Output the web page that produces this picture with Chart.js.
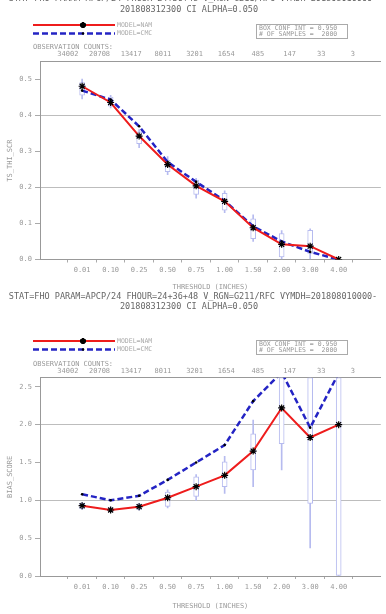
<!DOCTYPE html>
<html>
<head>
<meta charset="utf-8">
<script src="https://cdn.jsdelivr.net/npm/chart.js@4.4.0/dist/chart.umd.min.js"></script>
<style>
  body { margin: 0; background: #fff; width: 386px; height: 614px; overflow: hidden; position: relative; }
  canvas { position: absolute; left: 0; }
  #top { top: 0; }
  #bottom { top: 292px; }
</style>
</head>
<body>
<canvas id="top" width="386" height="292"></canvas>
<canvas id="bottom" width="386" height="322"></canvas>
<script>
// thresholds and observation counts (shared by both panels)
const thresholds = ['0.01', '0.10', '0.25', '0.50', '0.75', '1.00', '1.50', '2.00', '3.00', '4.00'];
const obsCounts = ['34002', '20708', '13417', '8011', '3201', '1654', '485', '147', '33', '3'];

// top panel: threat score
const tsNam = [0.480, 0.435, 0.342, 0.263, 0.204, 0.161, 0.088, 0.042, 0.037, 0.0];
const tsCmc = [0.468, 0.443, 0.369, 0.270, 0.215, 0.163, 0.092, 0.050, 0.021, 0.0];
const tsBoxLo = [0.455, 0.425, 0.321, 0.243, 0.180, 0.137, 0.058, 0.007, 0.017, null];
const tsBoxHi = [0.490, 0.450, 0.354, 0.275, 0.220, 0.183, 0.113, 0.072, 0.081, null];
const tsWhiskLo = [0.445, 0.420, 0.310, 0.235, 0.170, 0.130, 0.050, 0.0, 0.0, null];
const tsWhiskHi = [0.500, 0.455, 0.360, 0.285, 0.225, 0.190, 0.124, 0.080, 0.085, null];
const tsTicks = [0.0, 0.1, 0.2, 0.3, 0.4, 0.5];

// bottom panel: frequency bias
const biasNam = [0.929, 0.872, 0.916, 1.034, 1.18, 1.33, 1.65, 2.22, 1.83, 2.0];
const biasCmc = [1.08, 1.0, 1.06, 1.27, 1.50, 1.73, 2.31, 2.69, 1.96, 2.68];
const biasBoxLo = [0.89, 0.85, 0.88, 0.92, 1.05, 1.18, 1.40, 1.75, 0.96, 0.0];
const biasBoxHi = [0.96, 0.90, 0.95, 1.11, 1.31, 1.51, 1.88, 2.62, 2.62, 2.62];
const biasWhiskLo = [0.88, 0.84, 0.87, 0.90, 1.0, 1.09, 1.18, 1.40, 0.37, 0.0];
const biasWhiskHi = [0.97, 0.91, 0.96, 1.14, 1.34, 1.58, 2.06, 2.62, 2.62, 2.62];
const biasTicks = [0.0, 0.5, 1.0, 1.5, 2.0, 2.5];

const titleLine1 = 'STAT=FHO PARAM=APCP/24 FHOUR=24+36+48 V_RGN=G211/RFC VYMDH=201808010000-';
const titleLine2 = '201808312300 CI ALPHA=0.050';

Chart.defaults.font.family = '"DejaVu Sans Mono", monospace';
Chart.defaults.font.size = 7;
Chart.defaults.color = '#999';

const RED = '#ee1c1c';
const BLUE = '#2424c4';
const BOXC = '#b6bbef';

// titles, legend, conf box and "observation counts" caption
function decor(o) {
  return {
    id: 'decor',
    afterDraw(chart) {
      const ctx = chart.ctx;
      ctx.save();
      ctx.fillStyle = '#666';
      ctx.font = '8.5px "DejaVu Sans Mono"';
      ctx.textAlign = 'center';
      ctx.textBaseline = 'middle';
      ctx.fillText(titleLine1, 193, o.titleY);
      ctx.fillText(titleLine2, 189, o.titleY + o.titleGap);

      // legend
      const ly = o.legendY;
      ctx.lineWidth = 2;
      ctx.strokeStyle = RED;
      ctx.beginPath(); ctx.moveTo(33, ly); ctx.lineTo(115, ly); ctx.stroke();
      ctx.strokeStyle = BLUE;
      ctx.lineWidth = 2.5;
      ctx.setLineDash([6, 3]);
      ctx.beginPath(); ctx.moveTo(33, ly + 8.5); ctx.lineTo(115, ly + 8.5); ctx.stroke();
      ctx.setLineDash([]);
      ctx.strokeStyle = '#000';
      ctx.fillStyle = '#000';
      Chart.helpers.drawPoint(ctx, {pointStyle: 'star', radius: 3, borderWidth: 1.2, rotation: 0}, 83, ly);
      Chart.helpers.drawPoint(ctx, {pointStyle: 'circle', radius: 1.3, borderWidth: 0, rotation: 0}, 83, ly + 8.5);

      ctx.fillStyle = '#aaa';
      ctx.font = '6.5px "DejaVu Sans Mono"';
      ctx.textAlign = 'left';
      ctx.fillText('MODEL=NAM', 117, ly);
      ctx.fillText('MODEL=CMC', 117, ly + 8.5);

      // conf box
      ctx.strokeStyle = '#aaa';
      ctx.lineWidth = 1;
      ctx.strokeRect(256.5, ly - 0.5, 91, 14);
      ctx.fillStyle = '#999';
      ctx.fillText('BOX CONF INT = 0.950', 259, ly + 3.5);
      ctx.fillText('# OF SAMPLES =  2000', 259, ly + 9.8);

      ctx.font = '7px "DejaVu Sans Mono"';
      ctx.fillText('OBSERVATION COUNTS:', 33, o.countsY);
      ctx.restore();
    }
  };
}

function makeChart(id, p) {
  const pts = arr => arr.map((v, i) => ({x: i, y: v}));
  const rng = (lo, hi) => lo.map((v, i) => v == null ? null : {x: i, y: [v, hi[i]]}).filter(d => d);
  const idxTicks = s => { s.ticks = thresholds.map((t, i) => ({value: i})); };

  new Chart(document.getElementById(id), {
    type: 'line',
    data: {
      datasets: [
        {
          label: 'MODEL=NAM', data: pts(p.nam), borderColor: RED, borderWidth: 2,
          pointStyle: 'star', pointRadius: 3.5, pointBorderColor: '#000', pointBorderWidth: 1.2,
          tension: 0, order: 0
        },
        {
          label: 'MODEL=CMC', data: pts(p.cmc), borderColor: BLUE, borderWidth: 2.5, borderDash: [6, 3],
          pointStyle: 'circle', pointRadius: 1.3, pointBackgroundColor: '#000', pointBorderWidth: 0,
          tension: 0, order: 1
        },
        {
          type: 'bar', label: 'box', data: rng(p.boxLo, p.boxHi), backgroundColor: '#fff',
          borderColor: BOXC, borderWidth: 1, borderSkipped: false, barThickness: 5, grouped: false, order: 2
        },
        {
          type: 'bar', label: 'whisker', data: rng(p.whiskLo, p.whiskHi), backgroundColor: BOXC,
          borderWidth: 0, barThickness: 1, grouped: false, order: 3
        }
      ]
    },
    options: {
      responsive: false,
      animation: false,
      layout: {padding: {left: 0, right: 1, top: 0, bottom: 0}},
      plugins: {legend: {display: false}, tooltip: {enabled: false}},
      scales: {
        x: {
          type: 'linear', position: 'bottom', min: -0.88, max: 9.88,
          afterBuildTicks: idxTicks,
          afterFit: s => { s.height = p.xHeight; },
          ticks: {autoSkip: false, maxRotation: 0, padding: p.xPad, callback: v => thresholds[v]},
          grid: {drawOnChartArea: false, tickLength: 3, tickColor: '#aaa'},
          border: {color: '#999'},
          title: {display: true, text: 'THRESHOLD (INCHES)', color: '#999', padding: {top: 0, bottom: p.xTitlePad}}
        },
        x2: {
          type: 'linear', position: 'top', min: -0.88, max: 9.88,
          afterBuildTicks: idxTicks,
          afterFit: s => { s.height = p.topHeight; },
          ticks: {autoSkip: false, maxRotation: 0, padding: p.countPad, color: '#999', callback: v => obsCounts[v]},
          grid: {drawOnChartArea: false, drawTicks: false},
          border: {color: '#999'}
        },
        y: {
          min: 0, max: p.yMax,
          afterBuildTicks: s => { s.ticks = p.yTicks.map(v => ({value: v})); },
          afterFit: s => { s.width = 40; },
          ticks: {padding: 3, callback: v => v.toFixed(1)},
          grid: {
            tickLength: 5, tickColor: '#aaa',
            color: c => p.gridAt.some(g => Math.abs(g - c.tick.value) < 1e-6) ? '#bdbdbd' : 'rgba(0,0,0,0)'
          },
          border: {color: '#999'},
          title: {display: true, text: p.yTitle, color: '#999', padding: {top: 6, bottom: 0}}
        }
      }
    },
    plugins: [decor(p)]
  });
}

makeChart('top', {
  nam: tsNam, cmc: tsCmc, boxLo: tsBoxLo, boxHi: tsBoxHi, whiskLo: tsWhiskLo, whiskHi: tsWhiskHi,
  yMax: 0.548, yTicks: tsTicks, gridAt: [0.2, 0.4], yTitle: 'TS_THI_SCR',
  xHeight: 32.5, xPad: 3, xTitlePad: 1, topHeight: 61.7, countPad: 3,
  titleY: -1, titleGap: 11, legendY: 25, countsY: 46.7
});

makeChart('bottom', {
  nam: biasNam, cmc: biasCmc, boxLo: biasBoxLo, boxHi: biasBoxHi, whiskLo: biasWhiskLo, whiskHi: biasWhiskHi,
  yMax: 2.62, yTicks: biasTicks, gridAt: [1.0, 2.0], yTitle: 'BIAS_SCORE',
  xHeight: 38, xPad: 4, xTitlePad: 4, topHeight: 85.7, countPad: 2,
  titleY: 5, titleGap: 9.5, legendY: 49, countsY: 72
});
</script>
</body>
</html>
